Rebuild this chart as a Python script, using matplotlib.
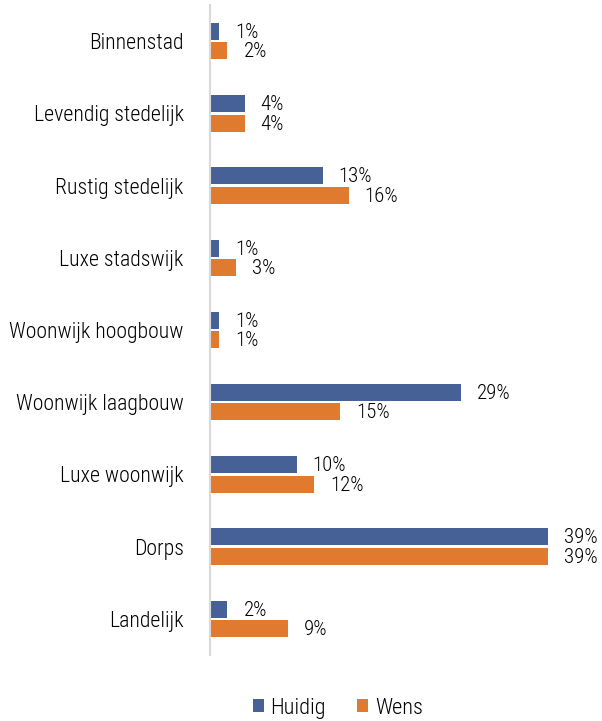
import numpy as np
import matplotlib
matplotlib.use('Agg')
import matplotlib.pyplot as plt
from matplotlib import font_manager as fm

# smalle letter zoals in het origineel; neem de eerste die er is
beschikbaar = set(f.name for f in fm.fontManager.ttflist)
kandidaten = ['Roboto Condensed', 'Open Sans Condensed', 'Archivo Narrow', 'PT Sans Narrow',
              'Liberation Sans Narrow', 'DejaVu Sans Condensed']
fam = [k for k in kandidaten if k in beschikbaar][:1]
plt.rcParams['font.family'] = fam + ['DejaVu Sans']
plt.rcParams['font.weight'] = 'light'

categories = ['Binnenstad', 'Levendig stedelijk', 'Rustig stedelijk', 'Luxe stadswijk',
              'Woonwijk hoogbouw', 'Woonwijk laagbouw', 'Luxe woonwijk', 'Dorps', 'Landelijk']
huidig = [1, 4, 13, 1, 1, 29, 10, 39, 2]
wens = [2, 4, 16, 3, 1, 15, 12, 39, 9]

blauw = '#466196'
oranje = '#E07A2F'

fig = plt.figure(figsize=(6.02, 7.21), dpi=100)
ax = fig.add_axes([0.349, 0.0916, 0.633, 0.9014])

y = np.arange(len(categories))
h = 0.235
b1 = ax.barh(y - 0.135, huidig, height=h, color=blauw, label='Huidig')
b2 = ax.barh(y + 0.135, wens, height=h, color=oranje, label='Wens')

for bars, vals in ((b1, huidig), (b2, wens)):
    for r, v in zip(bars, vals):
        ax.annotate('%d%%' % v, (r.get_width(), r.get_y() + r.get_height() / 2),
                    xytext=(16, -1), textcoords='offset pixels',
                    ha='left', va='center', fontsize=15, color='#000000')

ax.set_ylim(len(categories) - 0.5, -0.5)
ax.set_xlim(0, 44)
ax.set_yticks(y)
ax.set_yticklabels(categories, fontsize=15.7, color='#000000')
ax.tick_params(axis='y', length=0, pad=19)
ax.set_xticks([])
for s in ('top', 'right', 'bottom'):
    ax.spines[s].set_visible(False)
ax.spines['left'].set_color('#d9d9d9')
ax.spines['left'].set_linewidth(1.5)

fig.legend(handles=[b1, b2], loc='center', bbox_to_anchor=(0.561, 0.018), ncol=2,
           frameon=False, fontsize=16, handlelength=0.5, handleheight=0.5,
           handletextpad=0.3, columnspacing=1.4)

fig.savefig('out.png', dpi=100)
